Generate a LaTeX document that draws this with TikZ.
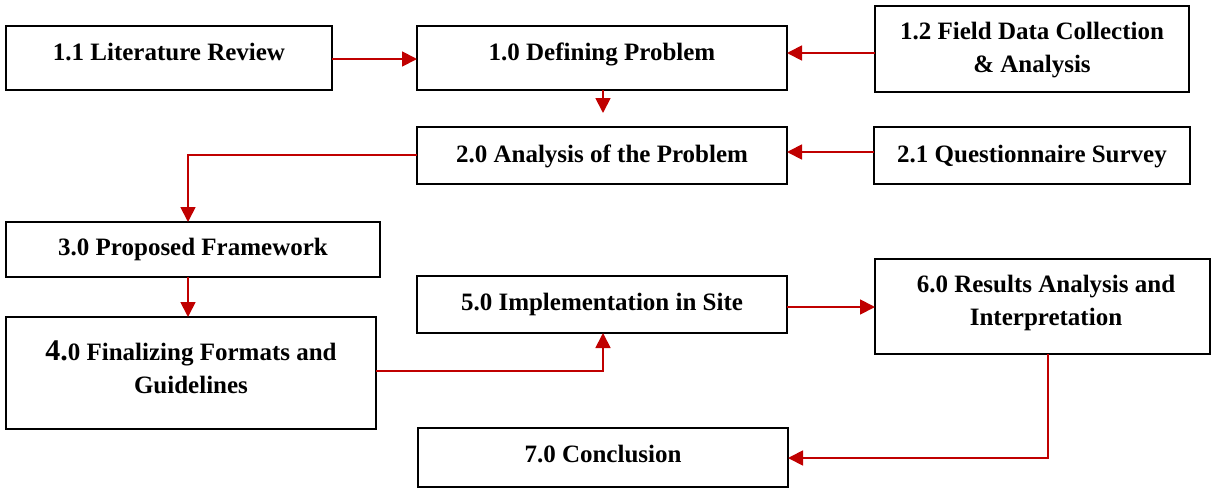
\documentclass[tikz,border=0pt]{standalone}
\usepackage{fontspec}
\setmainfont{Liberation Serif}
\usetikzlibrary{arrows.meta,calc}
\definecolor{flowred}{RGB}{192,0,0}
\tikzset{
  box/.style={draw=black, line width=1.4pt, fill=white, anchor=north west,
              inner sep=0pt, outer sep=0pt},
  lbl/.style={font=\fontsize{25}{33}\selectfont\bfseries, inner sep=0pt,
              align=center, text=black},
  flow/.style={draw=flowred, line width=1.8pt,
               -{Triangle[length=15pt,width=15pt]}},
}
\begin{document}
\begin{tikzpicture}[x=1pt,y=-1pt]
\useasboundingbox (0,0) rectangle (1211,488);

% process boxes
\node[box, minimum width=326, minimum height=64] (lit)   at (6,26)    {};
\node[box, minimum width=370, minimum height=64] (def)   at (417,26)  {};
\node[box, minimum width=314, minimum height=86] (field) at (875,6)    {};
\node[box, minimum width=370, minimum height=57] (ana)   at (417,127) {};
\node[box, minimum width=316, minimum height=57] (quest) at (874,127) {};
\node[box, minimum width=374, minimum height=55] (prop)  at (6,222)   {};
\node[box, minimum width=370, minimum height=112] (fin)  at (6,317)   {};
\node[box, minimum width=370, minimum height=57] (impl)  at (417,276) {};
\node[box, minimum width=335, minimum height=95] (res)   at (875,259) {};
\node[box, minimum width=370, minimum height=59] (conc)  at (418,428) {};

% box labels
\node[lbl, anchor=base] (tlit)   at (169,60)   {1.1 Literature Review};
\node[lbl, anchor=base] (tdef)   at (602,60)   {1.0 Defining Problem};
\node[lbl]              (tfield) at (1032,50)  {1.2 Field Data Collection\\\& Analysis};
\node[lbl, anchor=base] (tana)   at (602,162)  {2.0 Analysis of the Problem};
\node[lbl, anchor=base] (tquest) at (1032,162) {2.1 Questionnaire Survey};
\node[lbl, anchor=base] (tprop)  at (193,255)  {3.0 Proposed Framework};
\node[lbl]              (tfin)   at (191,367)  {{\fontsize{30}{33}\selectfont 4.}0 Finalizing Formats and\\Guidelines};
\node[lbl, anchor=base] (timpl)  at (602,310)  {5.0 Implementation in Site};
\node[lbl]              (tres)   at (1046,303) {6.0 Results Analysis and\\Interpretation};
\node[lbl, anchor=base] (tconc)  at (603,462)  {7.0 Conclusion};

% routing helpers
\coordinate (r0) at (0,59);
\coordinate (r1) at (0,53);
\coordinate (r2) at (0,152);
\coordinate (r4) at (0,155);
\coordinate (r3) at (0,307);
\coordinate (r5) at (0,371);
\coordinate (r6) at (0,458);
\coordinate (xl) at (188,0);
\coordinate (xm) at (603,0);
\coordinate (xr) at (1048,0);
\coordinate (dtip) at (603,113);

% connectors
\draw[flow] (lit.east |- r0) -- (def.west |- r0);
\draw[flow] (field.west |- r1) -- (def.east |- r1);
\draw[flow] (def.south -| xm) -- (dtip);
\draw[flow] (quest.west |- r2) -- (ana.east |- r2);
\draw[flow] (ana.west |- r4) -| (prop.north -| xl);
\draw[flow] (prop.south -| xl) -- (fin.north -| xl);
\draw[flow] (fin.east |- r5) -| (impl.south -| xm);
\draw[flow] (impl.east |- r3) -- (res.west |- r3);
\draw[flow] (res.south -| xr) |- (conc.east |- r6);
\end{tikzpicture}
\end{document}
